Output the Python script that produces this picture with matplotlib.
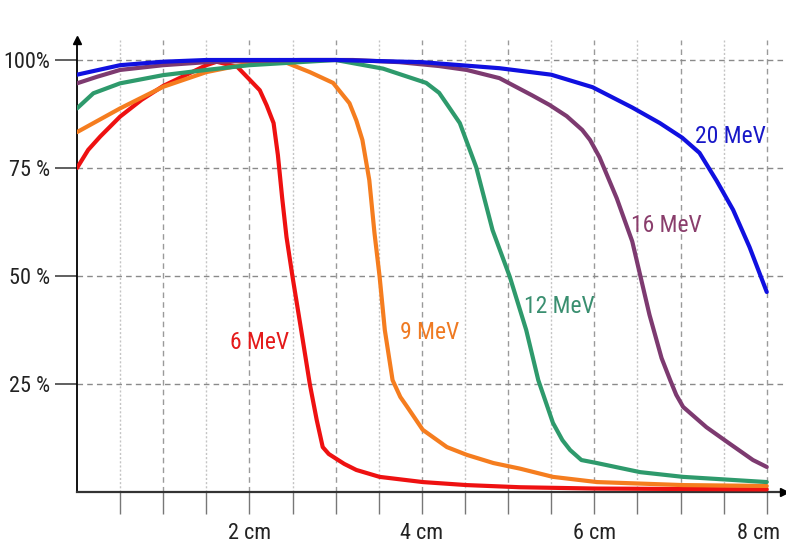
import matplotlib.pyplot as plt
from matplotlib import font_manager as fm
from matplotlib.transforms import ScaledTranslation
import numpy as np

# depth (cm) / relative dose (%)
x_6 = [0, 0.13, 0.27, 0.5, 0.75, 1.0, 1.5, 1.62, 1.86, 2.0, 2.12, 2.2, 2.28,
       2.33, 2.38, 2.43, 2.5, 2.6, 2.7, 2.78, 2.85, 2.92, 2.99, 3.1, 3.24,
       3.51, 4.01, 4.52, 5.14, 6.0, 7.0, 8.0]
y_6 = [75, 79.2, 82.3, 86.9, 90.8, 94, 98.8, 99.6, 98.4, 95.5, 93, 89.5, 85.4,
       78, 68, 59, 49.8, 37.5, 25, 16.7, 10.4, 8.8, 7.9, 6.5, 5.1,
       3.5, 2.3, 1.6, 1.1, 0.8, 0.7, 0.6]

x_9 = [0, 0.5, 1.0, 1.5, 2.0, 2.35, 2.7, 2.97, 3.16, 3.24, 3.31, 3.39, 3.45,
       3.51, 3.57, 3.66, 3.75, 3.83, 4.01, 4.29, 4.52, 4.83, 5.14, 5.52, 6.03,
       7.03, 8.0]
y_9 = [83.3, 88.8, 93.8, 97.2, 99.2, 100, 97.2, 94.7, 90, 86, 81.5, 72.2, 60,
       49.8, 37.5, 25.9, 22, 19.7, 14.4, 10.4, 8.6, 6.7, 5.4, 3.5, 2.3, 1.6,
       1.4]

x_12 = [0, 0.19, 0.5, 1.0, 1.5, 2.0, 2.58, 3.0, 3.55, 4.05, 4.2, 4.3, 4.44,
        4.63, 4.82, 5.02, 5.21, 5.35, 5.52, 5.63, 5.72, 5.85, 6.03, 6.53, 7.03,
        8.0]
y_12 = [88.8, 92.3, 94.6, 96.5, 97.7, 98.8, 99.5, 100, 98, 94.7, 92.4, 89.5,
        85.4, 75.2, 60.6, 49.8, 37.5, 25.9, 16, 12, 9.7, 7.4, 6.7, 4.6, 3.5,
        2.3]

x_16 = [0, 0.23, 0.5, 1.0, 1.5, 2.0, 2.6, 3.2, 3.74, 4.2, 4.52, 4.9, 5.28,
        5.48, 5.68, 5.86, 5.95, 6.06, 6.26, 6.44, 6.64, 6.78, 6.88, 6.95, 7.03,
        7.3, 7.54, 7.84, 8.0]
y_16 = [94.6, 96.1, 97.7, 98.8, 99.5, 99.8, 100, 100, 99.5, 98.6, 97.7, 95.8,
        91.8, 89.6, 87, 83.8, 81.5, 77.5, 68, 58, 41, 31, 25.9, 22.5, 19.7,
        15, 11.6, 7.4, 5.8]

x_20 = [0, 0.5, 1.0, 1.5, 2.0, 3.0, 4.0, 4.9, 5.5, 5.98, 6.44, 6.76, 7.02,
        7.22, 7.42, 7.61, 7.8, 8.0]
y_20 = [96.6, 98.8, 99.6, 100, 100, 100, 99.5, 98.1, 96.6, 93.7, 89, 85.4, 82,
        78.5, 72, 65.3, 56.7, 46.3]

energies = ["6 MeV", "9 MeV", "12 MeV", "16 MeV", "20 MeV"]
y_ticks = [25, 50, 75, 100]
y_tick_labels = ["25 %", "50 %", "75 %", "100%"]
x_label_ticks = [2, 4, 6, 8]
x_tick_labels = ["2 cm", "4 cm", "6 cm", "8 cm"]


def pick_font():
    """Look for an installed narrow / condensed sans face."""
    wanted = ["Liberation Sans Narrow", "Roboto Condensed", "Open Sans Condensed",
              "Noto Sans Condensed", "DejaVu Sans Condensed"]
    fonts = fm.fontManager.ttflist
    for w in wanted:
        for f in fonts:
            if f.name == w and f.weight in (400, "normal", "regular") and f.style == "normal":
                return f.fname, True
    for f in fonts:
        if str(f.stretch) in ("condensed", "semi-condensed") and f.style == "normal" \
                and f.weight in (400, "normal", "regular"):
            return f.fname, True
    return fm.findfont("Liberation Sans"), False


font_path, is_narrow = pick_font()
big = 17 if is_narrow else 15
small = 16 if is_narrow else 13.5


def fp(size):
    return fm.FontProperties(fname=font_path, size=size)


line_colours = ["#ee1111", "#f57d1f", "#2e9a6c", "#7d3a70", "#1010e0"]
text_colours = ["#e41a1a", "#ef7a22", "#3a8f70", "#8a3e6c", "#1818c8"]
label_pos = [(2.12, 34.5), (4.09, 37.0), (5.59, 43.0), (6.83, 61.6), (7.58, 82.4)]

fig = plt.figure(figsize=(7.86, 5.45), dpi=100)
ax = fig.add_axes([77 / 786, 1 - 492 / 545, (784 - 77) / 786, (492 - 40) / 545])
ax.set_xlim(0, 8.2)
ax.set_ylim(0, (492 - 40) / 4.32)

# grid
for xv in np.arange(0.5, 8.01, 0.5):
    if float(xv).is_integer():
        ax.axvline(xv, color="#9a9a9a", lw=1.0, ls=(0, (4, 3)), zorder=1)
    else:
        ax.axvline(xv, color="#c4c4c4", lw=1.0, ls=(0, (1.5, 1.5)), zorder=1)
for yv in y_ticks:
    ax.axhline(yv, color="#8a8a8a", lw=1.0, ls=(0, (4, 3)), zorder=1)

series = [(x_6, y_6), (x_9, y_9), (x_12, y_12), (x_16, y_16), (x_20, y_20)]
for (xs, ys), c in zip(series, line_colours):
    ax.plot(xs, ys, color=c, lw=3.0, solid_joinstyle="round",
            solid_capstyle="round", zorder=3)

for name, (lx, ly), c in zip(energies, label_pos, text_colours):
    ax.text(lx, ly, name, color=c, fontproperties=fp(big), ha="center",
            va="center", zorder=4)

# axes with arrow heads
for s in ("top", "right"):
    ax.spines[s].set_visible(False)
ax.spines["left"].set_color("black")
ax.spines["bottom"].set_color("#333333")
ax.spines["left"].set_linewidth(1.3)
ax.spines["bottom"].set_linewidth(1.6)
ax.plot(0, 1, marker="^", color="black", ms=6, transform=ax.transAxes,
        clip_on=False, zorder=5)
ax.plot(1, 0, marker=">", color="black", ms=6, transform=ax.transAxes,
        clip_on=False, zorder=5)

half_cm = np.arange(0.5, 8.01, 0.5)
ax.set_xticks(half_cm)
ax.set_xticklabels([x_tick_labels[x_label_ticks.index(v)] if v in x_label_ticks else ""
                    for v in half_cm], fontproperties=fp(small))
ax.tick_params(axis="x", direction="out", length=16, width=1, color="#777777",
               pad=6, labelcolor="#222222")
ax.set_yticks(y_ticks)
ax.set_yticklabels(y_tick_labels, fontproperties=fp(small))
ax.tick_params(axis="y", direction="out", length=16, width=1.2, color="#444444",
               pad=3, labelcolor="#222222")

# last x label sits a little to the left so it stays inside the picture
last = ax.get_xticklabels()[-1]
last.set_transform(last.get_transform()
                   + ScaledTranslation(-6 / 72, 0, fig.dpi_scale_trans))

fig.savefig("out.png", dpi=100, facecolor="white")
